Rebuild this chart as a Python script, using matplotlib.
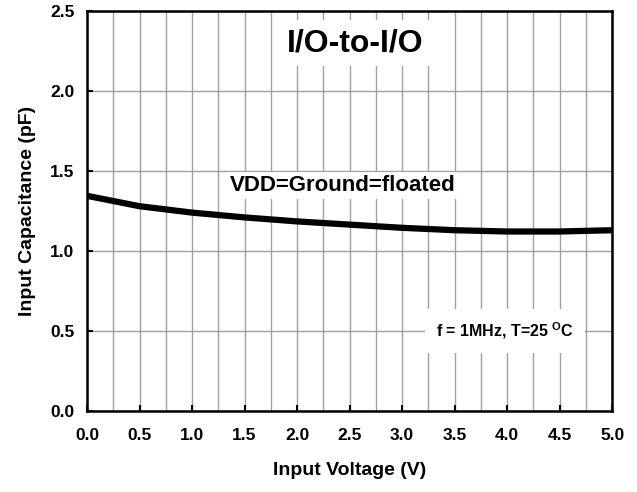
import matplotlib.pyplot as plt
from matplotlib.ticker import MultipleLocator

plt.rcParams['font.family'] = ['Liberation Sans', 'DejaVu Sans']
plt.rcParams['font.weight'] = 'bold'
plt.rcParams['mathtext.fontset'] = 'custom'
plt.rcParams['mathtext.rm'] = 'Liberation Sans:bold'
plt.rcParams['mathtext.bf'] = 'Liberation Sans:bold'

# curve
voltage = [0.0, 0.5, 1.0, 1.5, 2.0, 2.5, 3.0, 3.5, 4.0, 4.5, 5.0]
capacitance = [1.345, 1.28, 1.24, 1.21, 1.185, 1.165, 1.145, 1.13, 1.122, 1.122, 1.13]

fig = plt.figure(figsize=(6.37, 4.92), dpi=100)
ax = fig.add_axes([0.1366, 0.1646, 0.8244, 0.813])

ax.plot(voltage, capacitance, color='black', lw=4.5, solid_capstyle='round', zorder=4)

ax.set_xlim(0, 5)
ax.set_ylim(0, 2.5)
ax.xaxis.set_major_locator(MultipleLocator(0.5))
ax.xaxis.set_minor_locator(MultipleLocator(0.25))
ax.yaxis.set_major_locator(MultipleLocator(0.5))
ax.xaxis.set_major_formatter(plt.FormatStrFormatter('%.1f'))
ax.yaxis.set_major_formatter(plt.FormatStrFormatter('%.1f'))

ax.grid(which='both', axis='x', color='#a0a0a0', lw=1)
ax.grid(which='major', axis='y', color='#a0a0a0', lw=1)
ax.set_axisbelow(True)

ax.tick_params(which='major', direction='in', length=4, width=1.5, labelsize=12.5)
ax.tick_params(axis='x', pad=12)
ax.tick_params(axis='y', pad=9)
ax.tick_params(which='minor', length=0)
for s in ax.spines.values():
    s.set_linewidth(1.8)

ax.set_xlabel('Input Voltage (V)', fontsize=14, fontweight='bold', labelpad=14)
ax.set_ylabel('Input Capacitance (pF)', fontsize=14, fontweight='bold', labelpad=10)

ax.text(2.55, 2.3, 'I/O-to-I/O', fontsize=23, fontweight='bold', ha='center', va='center',
        bbox=dict(facecolor='white', edgecolor='none', pad=6), zorder=3)
ax.text(2.43, 1.41, 'VDD=Ground=floated', fontsize=16, fontweight='bold', ha='center', va='center',
        bbox=dict(facecolor='white', edgecolor='none', pad=2), zorder=3)
ax.text(3.98, 0.5, 'f = 1MHz, T=25 $^{\\mathbf{O}}$C', fontsize=11.5, fontweight='bold',
        ha='center', va='center',
        bbox=dict(facecolor='white', edgecolor='none', pad=8), zorder=3)

fig.savefig('out.png', dpi=100)
